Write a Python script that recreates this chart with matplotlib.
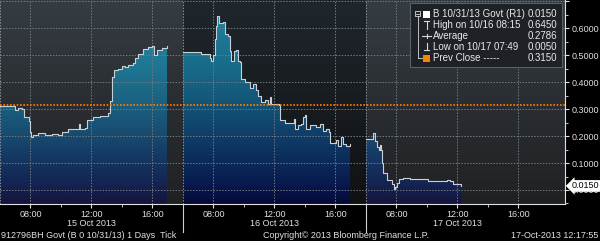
import matplotlib
matplotlib.use('Agg')
import numpy as np
import matplotlib.pyplot as plt
from matplotlib import patches, lines, transforms
from matplotlib.colors import LinearSegmentedColormap

plt.rcParams['font.family'] = ['Liberation Sans', 'DejaVu Sans']

# tick data for the three sessions (local time, yield)
day1_times = ['06:00', '06:51', '06:59', '07:11', '07:27', '07:34', '07:54',
              '08:00', '08:02', '08:10', '08:30', '08:57', '09:25', '09:48',
              '10:04', '10:27', '10:55', '11:11', '11:15', '11:34', '11:42',
              '12:06', '12:33', '13:05', '13:13', '13:21', '13:29', '13:44',
              '14:00', '14:12', '14:24', '14:43', '14:51', '15:03', '15:22',
              '15:42', '15:58', '16:06', '16:18', '16:37', '16:57']
day1_vals = [0.310, 0.310, 0.298, 0.303, 0.300, 0.270, 0.255,
             0.215, 0.195, 0.205, 0.210, 0.205, 0.208, 0.203,
             0.215, 0.225, 0.228, 0.245, 0.228, 0.230, 0.260,
             0.270, 0.275, 0.285, 0.330, 0.420, 0.445, 0.450,
             0.460, 0.455, 0.465, 0.470, 0.490, 0.505, 0.525,
             0.530, 0.535, 0.500, 0.520, 0.528, 0.535]

day2_times = ['06:00', '07:12', '07:45', '07:51', '07:58', '08:05', '08:11',
              '08:15', '08:22', '08:37', '08:44', '08:57', '09:04', '09:10',
              '09:19', '09:30', '09:36', '09:43', '09:49', '10:03', '10:22',
              '10:35', '10:46', '10:55', '11:08', '11:21', '11:34', '11:41',
              '11:47', '12:07', '12:18', '12:23', '12:40', '13:13', '13:16',
              '13:20', '13:33', '13:45', '13:52', '13:59', '14:05', '14:18',
              '14:44', '14:58', '15:11', '15:24', '15:34', '15:40', '15:57',
              '16:03', '16:10', '16:23', '16:29', '16:42', '16:56']
day2_vals = [0.512, 0.505, 0.490, 0.480, 0.500, 0.560, 0.610,
             0.645, 0.620, 0.625, 0.580, 0.570, 0.515, 0.480,
             0.515, 0.520, 0.480, 0.475, 0.410, 0.400, 0.380,
             0.395, 0.370, 0.350, 0.327, 0.333, 0.320, 0.345,
             0.320, 0.320, 0.315, 0.259, 0.250, 0.247, 0.265,
             0.225, 0.240, 0.245, 0.270, 0.280, 0.225, 0.240,
             0.235, 0.245, 0.220, 0.228, 0.215, 0.175, 0.175,
             0.185, 0.165, 0.195, 0.170, 0.165, 0.170]

day3_times = ['06:00', '06:26', '06:29', '06:35', '06:42', '06:52', '06:55',
              '06:59', '07:04', '07:08', '07:21', '07:41', '07:49', '07:54',
              '08:01', '08:11', '08:27', '08:53', '09:59', '10:05', '10:38',
              '11:18', '11:31', '11:44', '12:14']
day3_vals = [0.188, 0.188, 0.210, 0.180, 0.160, 0.148, 0.168,
             0.150, 0.100, 0.063, 0.038, 0.022, 0.005, 0.012,
             0.025, 0.041, 0.044, 0.042, 0.042, 0.032, 0.034,
             0.036, 0.033, 0.022, 0.015]

prev_close = 0.3150
last_value = 0.0150

day_labels = ['15 Oct 2013', '16 Oct 2013', '17 Oct 2013']
hour_ticks = [8, 12, 16]
y_ticks = [0.0, 0.1, 0.2, 0.3, 0.4, 0.5, 0.6, 0.7]

legend_labels = ['B 10/31/13 Govt (R1)', 'High on 10/16 08:15', 'Average',
                 'Low on 10/17 07:49', 'Prev Close -----']
legend_values = ['0.0150', '0.6450', '0.2786', '0.0050', '0.3150']

footer_left = '912796BH Govt (B 0 10/31/13) 1 Days  Tick'
footer_mid = 'Copyright\u00a9 2013 Bloomberg Finance L.P.'
footer_right = '17-Oct-2013 12:17:55'

# each session is shown from 06:00 to 18:00, sessions placed back to back
SESSION_START = 6
SESSION_LEN = 12
W, H = 600, 241
YMIN, YMAX = -0.052, 0.705
XMAX = 37.05


def to_x(day, t):
    h, m = t.split(':')
    return day * SESSION_LEN + int(h) + int(m) / 60 - SESSION_START


def fx(x):
    return x / W


def fy(y):
    return 1 - y / H


fig = plt.figure(figsize=(W / 100, H / 100), dpi=100, facecolor='black')
ax = fig.add_axes([0, 1 - 204 / H, 565 / W, 204 / H])
ax.set_facecolor('black')

grad = np.linspace(0, 1, 256).reshape(-1, 1)
bg_light = LinearSegmentedColormap.from_list('bgl', ['#202123', '#2a2e32', '#353c43'])
bg_dark = LinearSegmentedColormap.from_list('bgd', ['#101113', '#181c20', '#1f262d'])
day_bgs = [bg_light, bg_dark, bg_light]
day_ends = [SESSION_LEN, 2 * SESSION_LEN, XMAX]
for d in range(3):
    ax.imshow(grad, extent=[d * SESSION_LEN, day_ends[d], YMIN, YMAX],
              origin='lower', aspect='auto', cmap=day_bgs[d], zorder=0)

# fill colour follows the value axis, teal at top to navy at bottom
stops = [(-0.052, '#14163c'), (0.0, '#141f4d'), (0.1, '#15345f'),
         (0.2, '#174a6e'), (0.31, '#1a5f7e'), (0.45, '#1e7592'),
         (0.705, '#2590aa')]
fill_light = LinearSegmentedColormap.from_list(
    'fl', [((v - YMIN) / (YMAX - YMIN), c) for v, c in stops])
stops2 = [(-0.052, '#050a36'), (0.0, '#07154a'), (0.1, '#0b2a5a'),
          (0.2, '#0f3d68'), (0.31, '#135275'), (0.45, '#186a88'),
          (0.705, '#1f88a3')]
fill_dark = LinearSegmentedColormap.from_list(
    'fd', [((v - YMIN) / (YMAX - YMIN), c) for v, c in stops2])
fill_maps = [fill_light, fill_dark, fill_light]

for d, (times, vals) in enumerate([(day1_times, day1_vals),
                                   (day2_times, day2_vals),
                                   (day3_times, day3_vals)]):
    xs = [to_x(d, t) for t in times]
    poly = ax.fill_between(xs, vals, YMIN, step='post', color='none', lw=0)
    img = ax.imshow(grad, extent=[0, XMAX, YMIN, YMAX], origin='lower',
                    aspect='auto', cmap=fill_maps[d], zorder=1)
    img.set_clip_path(poly.get_paths()[0], transform=ax.transData)
    ax.plot(xs, vals, drawstyle='steps-post', color='#c9d0d6', lw=0.8, zorder=4)

ax.axhline(prev_close, color='#ff8000', lw=1.2, ls=(0, (1, 1)), zorder=5)

ax.set_xlim(0, XMAX)
ax.set_ylim(YMIN, YMAX)

major_x = [d * SESSION_LEN + h - SESSION_START for d in range(3) for h in hour_ticks]
minor_x = [d * SESSION_LEN + h - SESSION_START for d in range(3) for h in (10, 14)]
ax.set_xticks(major_x)
ax.set_xticklabels(['%02d:00' % h for d in range(3) for h in hour_ticks])
ax.set_xticks(minor_x, minor=True)
ax.set_yticks(y_ticks)
# the top label falls outside the picture, as in the terminal screenshot
ax.set_yticklabels(['%.4f' % v if v < 0.65 else '' for v in y_ticks])
ax.set_yticks(np.arange(-0.05, 0.71, 0.05), minor=True)
ax.yaxis.tick_right()

ax.tick_params(colors='#e0e0e0', labelsize=6.5, length=3, width=0.8, pad=1.5)
ax.tick_params(which='minor', colors='#e0e0e0', length=2, width=0.6)
ax.tick_params(axis='x', pad=1)

ax.set_axisbelow(False)
ax.grid(True, which='major', color='#737980', lw=0.7, ls=(0, (1.5, 1.5)))
for d in range(3):
    ax.axvline(d * SESSION_LEN, color='#8a9096', lw=0.7, ls=(0, (1.5, 1.5)), zorder=3)

for s in ['top', 'left']:
    ax.spines[s].set_visible(False)
for s in ['right', 'bottom']:
    ax.spines[s].set_color('#e0e0e0')
    ax.spines[s].set_linewidth(0.8)

# day separators and date labels under the axis
xaxis_tr = ax.get_xaxis_transform()
for d in range(1, 3):
    ax.plot([d * SESSION_LEN] * 2, [0, -28 / 204], color='#d0d0d0', lw=0.8,
            transform=xaxis_tr, clip_on=False)
for d, lab in enumerate(day_labels):
    ax.text(d * SESSION_LEN + 12 - SESSION_START, -20 / 204, lab,
            transform=xaxis_tr, ha='center', va='center', color='#e0e0e0',
            fontsize=6.5)

# last value tag on the value axis
tag_tr = transforms.blended_transform_factory(ax.transAxes, ax.transData)
ax.text(572 / 565, last_value, '%.4f' % last_value, transform=tag_tr,
        ha='left', va='center', fontsize=6.5, color='black', zorder=20,
        bbox=dict(boxstyle='larrow,pad=0.15', fc='white', ec='none'))

# legend panel
fig.add_artist(patches.Rectangle((fx(410), fy(67)), (562 - 410) / W, 64 / H,
                                 transform=fig.transFigure, fc='#1e2226',
                                 ec='#5a6066', lw=0.8, zorder=10))
row_y = [14, 25, 36, 47, 58]
for i, (lab, val) in enumerate(zip(legend_labels, legend_values)):
    fig.text(fx(433), fy(row_y[i]), lab, color='#e8e8e8', fontsize=7,
             va='center', ha='left', zorder=11)
    fig.text(fx(557), fy(row_y[i]), val, color='#e8e8e8', fontsize=7,
             va='center', ha='right', zorder=11)

sym = '#d8d8d8'


def seg(x0, y0, x1, y1, color=sym, lw=0.8):
    fig.add_artist(lines.Line2D([fx(x0), fx(x1)], [fy(y0), fy(y1)], color=color,
                                lw=lw, transform=fig.transFigure, zorder=11))


fig.add_artist(patches.Rectangle((fx(423), fy(18)), 7 / W, 7 / H, fc='white',
                                 ec='none', transform=fig.transFigure, zorder=11))
fig.add_artist(patches.Rectangle((fx(423), fy(62)), 7 / W, 7 / H, fc='#ff8000',
                                 ec='none', transform=fig.transFigure, zorder=11))
fig.add_artist(patches.Rectangle((fx(415), fy(16)), 5 / W, 5 / H, fc='none',
                                 ec=sym, lw=0.6, transform=fig.transFigure, zorder=11))
seg(416, 13.5, 419, 13.5, lw=0.6)
seg(417.5, 16, 417.5, 58, lw=0.6)
seg(417.5, 58, 422, 58, lw=0.6)
seg(424, 21, 429, 21)
seg(426.5, 21, 426.5, 29)
seg(422, 36, 431, 36)
seg(426.5, 34, 426.5, 38)
seg(426.5, 43, 426.5, 50)
seg(424, 50, 429, 50)

fig.text(fx(1), fy(236), footer_left, color='#e0e0e0', fontsize=6.5,
         ha='left', va='center')
fig.text(fx(346), fy(236), footer_mid, color='#e0e0e0', fontsize=6.5,
         ha='center', va='center')
fig.text(fx(598), fy(236), footer_right, color='#e0e0e0', fontsize=6.5,
         ha='right', va='center')

fig.savefig('out.png', dpi=100, facecolor='black')
